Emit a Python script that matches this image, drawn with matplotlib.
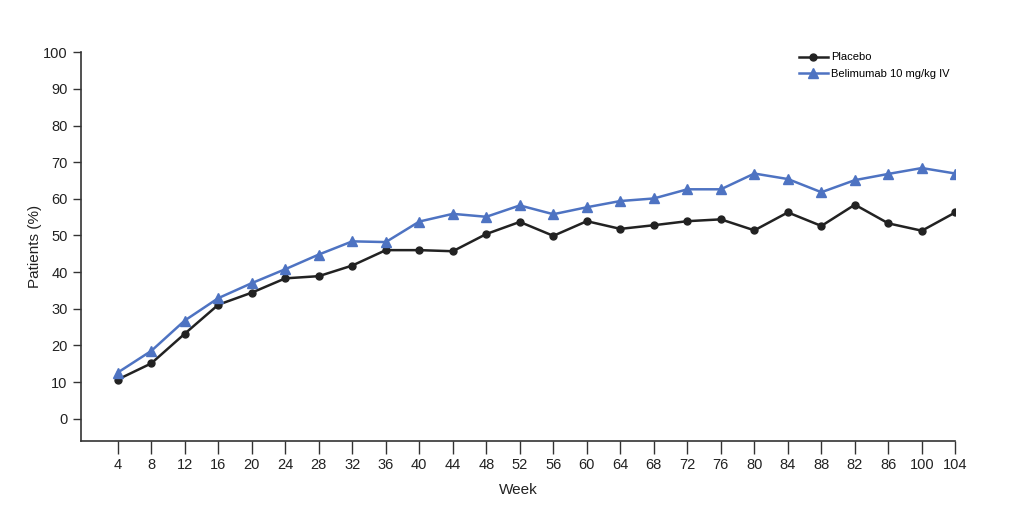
import matplotlib.pyplot as plt
import numpy as np

# tick labels as printed on the original chart
weeks = ["4", "8", "12", "16", "20", "24", "28", "32", "36", "40", "44", "48", "52",
         "56", "60", "64", "68", "72", "76", "80", "84", "88", "82", "86", "100", "104"]

placebo = [10.7, 15.1, 23.2, 31.1, 34.4, 38.3, 38.9, 41.8, 46.0, 46.0, 45.7, 50.4, 53.7,
           49.9, 53.9, 51.8, 52.8, 53.9, 54.4, 51.4, 56.3, 52.6, 58.4, 53.3, 51.3, 56.3]
belimumab = [12.6, 18.5, 26.8, 32.9, 37.0, 40.8, 44.8, 48.4, 48.2, 53.8, 55.9, 55.1, 58.2,
             55.8, 57.7, 59.4, 60.1, 62.6, 62.6, 66.9, 65.4, 61.8, 65.1, 66.8, 68.4, 66.9]

plt.rcParams['font.family'] = ['Liberation Sans', 'DejaVu Sans']

fig = plt.figure(figsize=(10.24, 5.07), dpi=100)
ax = fig.add_axes([0.079, 0.130, 0.854, 0.767])

x = np.arange(len(weeks))
ax.plot(x, placebo, color='#222222', lw=1.8, marker='o', ms=5, label='Placebo')
ax.plot(x, belimumab, color='#4e73c2', lw=1.8, marker='^', ms=6.5, label='Belimumab 10 mg/kg IV')

ax.set_xlim(-1.1, 25)
ax.set_ylim(-6.1, 100)
ax.set_yticks(range(0, 101, 10))
ax.set_xticks(x)
ax.set_xticklabels(weeks)

for s in ['top', 'right']:
    ax.spines[s].set_visible(False)
for s in ['left', 'bottom']:
    ax.spines[s].set_color('#333333')
    ax.spines[s].set_linewidth(1.2)

ax.tick_params(axis='y', direction='out', length=6, width=1, color='#333333', labelsize=10.5, labelcolor='#222222')
ax.tick_params(axis='x', direction='out', length=9, width=1, color='#333333', labelsize=10.5, labelcolor='#222222', pad=3)

ax.set_xlabel('Week', fontsize=11, color='#222222', labelpad=8)
ax.set_ylabel('Patients (%)', fontsize=11, color='#222222', labelpad=1)

ax.legend(loc='upper right', bbox_to_anchor=(1.005, 1.025), frameon=False, fontsize=8,
          handlelength=2.6, handletextpad=0.3, labelspacing=0.55)

plt.savefig('out.png', dpi=100)
